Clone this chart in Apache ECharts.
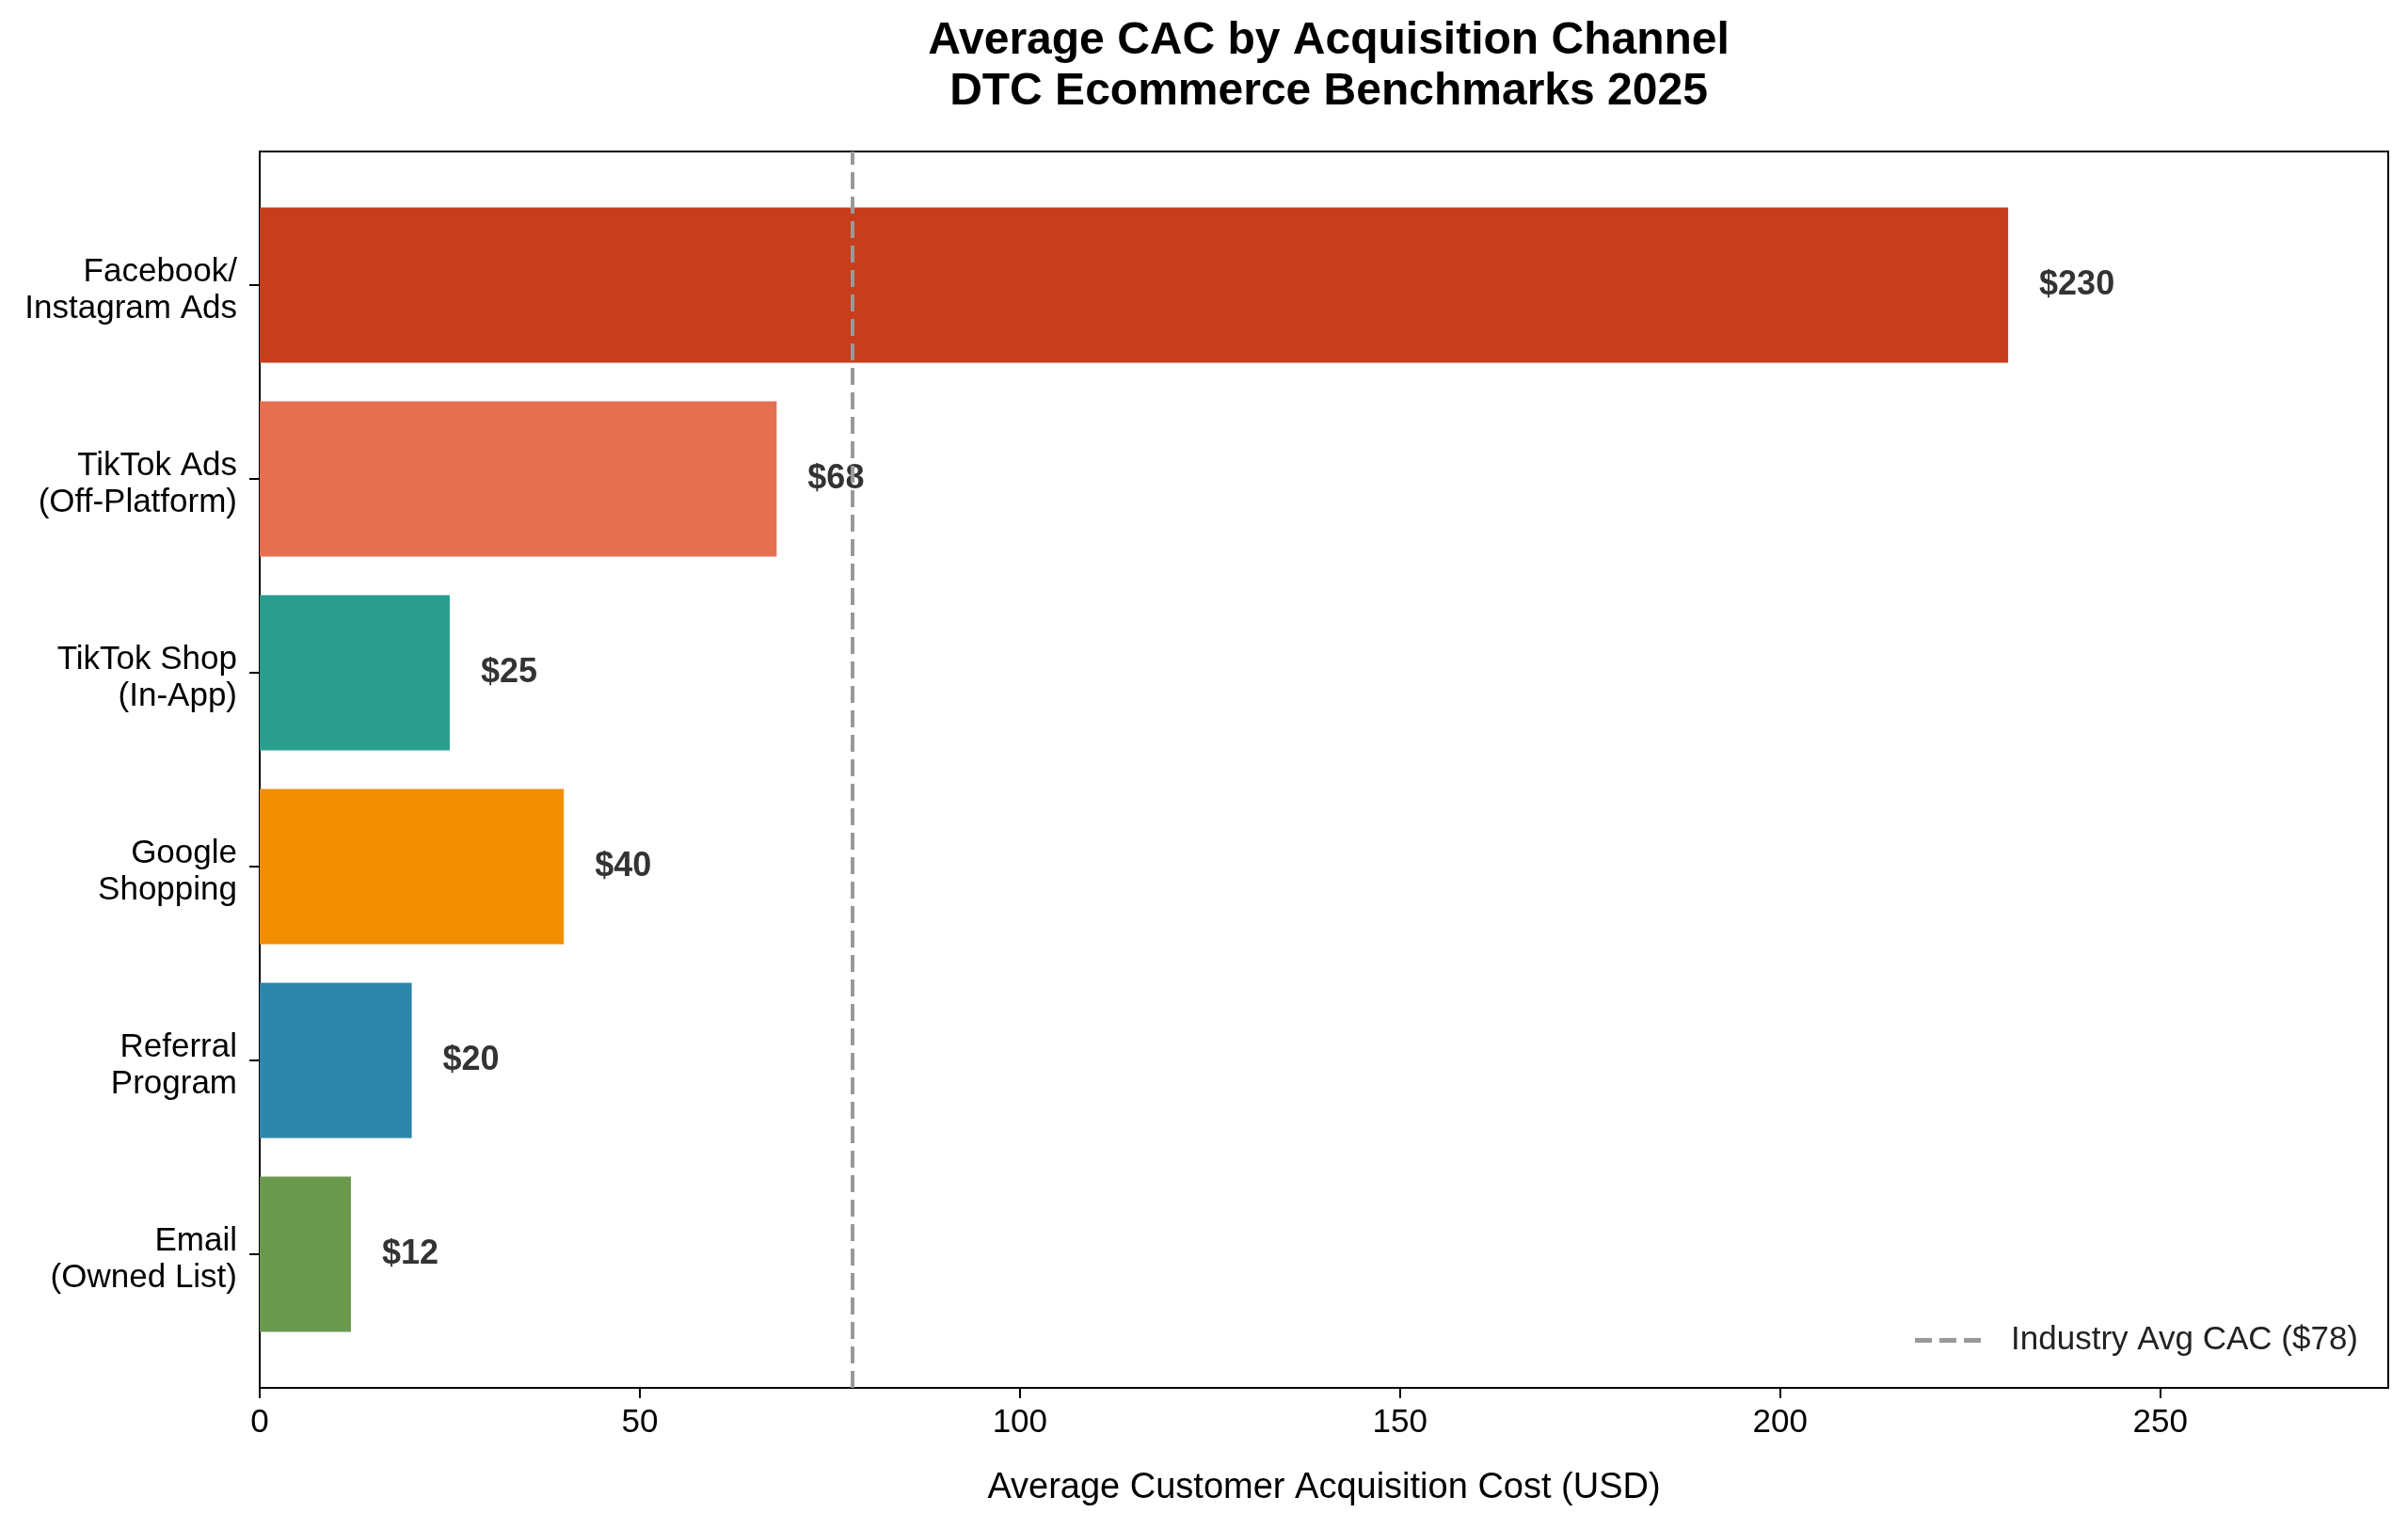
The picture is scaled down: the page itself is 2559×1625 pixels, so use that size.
<!DOCTYPE html>
<html lang="en">
<head>
  <meta charset="UTF-8">
  <title>Average CAC by Acquisition Channel</title>
  <script src="https://cdn.jsdelivr.net/npm/echarts@6/dist/echarts.min.js"></script>
  <style>
    * { margin: 0; padding: 0; }
    body { background: #fff; }
    #chart { width: 2559px; height: 1625px; }
  </style>
</head>
<body>
  <div id="chart"></div>
  <script>
    // data
    const channels = [
      'Facebook/\nInstagram Ads',
      'TikTok Ads\n(Off-Platform)',
      'TikTok Shop\n(In-App)',
      'Google\nShopping',
      'Referral\nProgram',
      'Email\n(Owned List)'
    ];
    const cac = [230, 68, 25, 40, 20, 12];
    const barColors = ['#C73E1D', '#E76F51', '#2A9D8F', '#F18F01', '#2E86AB', '#6A994E'];
    const industryAvg = 78;
    const xTicks = [0, 50, 100, 150, 200, 250];
    const xMax = 280;

    const font = 'Liberation Sans, Arial, sans-serif';
    const avgName = 'Industry Avg CAC ($' + industryAvg + ')';
    const chart = echarts.init(document.getElementById('chart'));

    const option = {
      backgroundColor: '#fff',
      animation: false,
      title: {
        text: 'Average CAC by Acquisition Channel\nDTC Ecommerce Benchmarks 2025',
        left: 1407,
        textAlign: 'center',
        top: 12,
        textStyle: { fontFamily: font, fontSize: 48, fontWeight: 'bold', color: '#000', lineHeight: 54 }
      },
      legend: {
        right: 53,
        top: 1407,
        padding: 0,
        itemWidth: 70,
        itemHeight: 5,
        // three dashes, like the dashed reference line
        data: [{ name: avgName, icon: 'path://M0,0H18V5H0Z M26,0H44V5H26Z M52,0H70V5H52Z' }],
        itemStyle: { color: '#999' },
        textStyle: { fontFamily: font, fontSize: 35, color: '#222', padding: [0, 0, 0, 27] }
      },
      grid: [
        // outer frame (axes box)
        { left: 276, right: 21, top: 161, bottom: 150, show: true, borderColor: '#000', borderWidth: 2, backgroundColor: 'transparent' },
        // bars area, inset like matplotlib's margins
        { left: 276, right: 21, top: 200, bottom: 189 }
      ],
      xAxis: [
        {
          gridIndex: 0, type: 'value', min: 0, max: xMax,
          name: 'Average Customer Acquisition Cost (USD)',
          nameLocation: 'middle', nameGap: 88,
          nameTextStyle: { fontFamily: font, fontSize: 38, color: '#000' },
          axisLine: { show: true, lineStyle: { color: '#000', width: 2 } },
          axisTick: { show: true, length: 11, lineStyle: { color: '#000', width: 2 }, customValues: xTicks },
          axisLabel: { fontFamily: font, fontSize: 35, color: '#000', margin: 20, customValues: xTicks },
          splitLine: { show: false }
        },
        { gridIndex: 1, type: 'value', min: 0, max: xMax, show: false }
      ],
      yAxis: [
        { gridIndex: 0, type: 'value', min: 0, max: 1, show: false },
        {
          gridIndex: 1, type: 'category', inverse: true, data: channels,
          axisLine: { show: false },
          axisTick: { show: true, alignWithLabel: true, length: 11, lineStyle: { color: '#000', width: 2 } },
          axisLabel: {
            margin: 24, align: 'right',
            // top padding on each line nudges the block slightly down, as in the reference
            formatter: v => v.split('\n').map(s => '{l|' + s + '}').join('\n'),
            rich: {
              l: { fontFamily: font, fontSize: 35, color: '#000', lineHeight: 39, padding: [12, 0, 0, 0], align: 'right' }
            }
          },
          splitLine: { show: false }
        }
      ],
      series: [
        {
          type: 'bar',
          xAxisIndex: 1, yAxisIndex: 1,
          barWidth: '80%',
          data: cac.map((v, i) => ({ value: v, itemStyle: { color: barColors[i] } })),
          label: {
            show: true, position: 'right', distance: 33,
            formatter: p => '$' + p.value,
            fontFamily: font, fontSize: 36, fontWeight: 'bold', color: '#333'
          },
          silent: true
        },
        {
          name: avgName,
          type: 'line',
          xAxisIndex: 0, yAxisIndex: 0,
          data: [],
          symbol: 'none',
          color: '#999',
          lineStyle: { color: '#999', width: 4, type: [18, 8] },
          markLine: {
            silent: true,
            symbol: 'none',
            label: { show: false },
            lineStyle: { color: '#999', width: 4, type: [18, 8] },
            data: [{ xAxis: industryAvg }]
          }
        }
      ]
    };

    chart.setOption(option);
  </script>
</body>
</html>
